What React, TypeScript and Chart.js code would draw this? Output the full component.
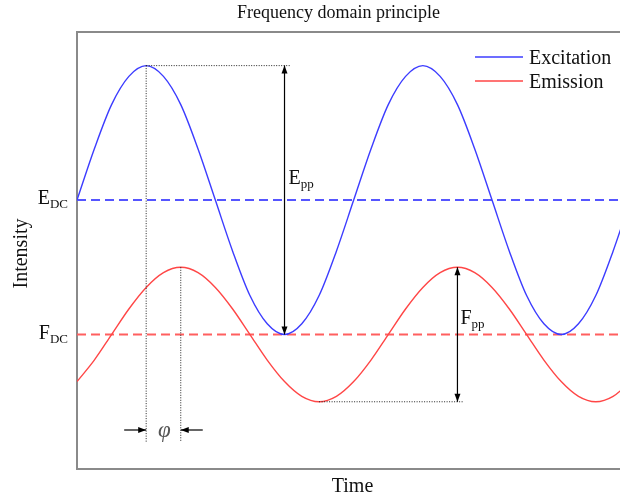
import React, { useEffect, useRef } from "react";
import { Chart, registerables } from "chart.js";

Chart.register(...registerables);

// Sample times, in eighths of a modulation period
const TIME = [
  0, 0.5, 1, 1.5, 2, 2.5, 3, 3.5, 4, 4.5, 5, 5.5, 6, 6.5, 7, 7.5,
  8, 8.5, 9, 9.5, 10, 10.5, 11, 11.5, 12, 12.5, 13, 13.5, 14, 14.5, 15, 15.5, 16,
];
// Excitation intensity (blue)
const EXCITATION = [
  2.0, 2.38, 2.71, 2.92, 3.0, 2.92, 2.71, 2.38, 2.0, 1.62, 1.29, 1.08, 1.0, 1.08, 1.29, 1.62,
  2.0, 2.38, 2.71, 2.92, 3.0, 2.92, 2.71, 2.38, 2.0, 1.62, 1.29, 1.08, 1.0, 1.08, 1.29, 1.62, 2.0,
];
// Emission intensity (red), demodulated and phase-shifted
const EMISSION = [
  0.65, 0.81, 1.0, 1.19, 1.35, 1.46, 1.5, 1.46, 1.35, 1.19, 1.0, 0.81, 0.65, 0.54, 0.5, 0.54,
  0.65, 0.81, 1.0, 1.19, 1.35, 1.46, 1.5, 1.46, 1.35, 1.19, 1.0, 0.81, 0.65, 0.54, 0.5, 0.54, 0.65,
];
// Mean (DC) levels: excitation, emission
const DC_LEVELS = [2.0, 1.0];
const SERIES_NAMES = ["Excitation", "Emission"];
const DC_NAMES = [
  ["E", "DC"],
  ["F", "DC"],
];
const PP_NAMES = [
  ["E", "pp"],
  ["F", "pp"],
];
const X_RANGE = [0, 15.7];
const Y_RANGE = [0, 3.25];

const SERIF = '"Liberation Serif", "Times New Roman", serif';

const BLUE = "rgb(60,60,255)";
const RED = "rgb(255,70,70)";
const BLUE_DASH = "rgb(85,85,255)";
const RED_DASH = "rgb(255,95,95)";

function argMax(arr: number[], from = 0) {
  let best = from;
  for (let i = from; i < arr.length; i++) if (arr[i] > arr[best]) best = i;
  return best;
}
// first local extremum at or after index `from`
function nextMin(arr: number[], from: number) {
  let i = from;
  while (i + 1 < arr.length && arr[i + 1] <= arr[i]) i++;
  return i;
}
function nextMax(arr: number[], from: number) {
  let i = from;
  while (i + 1 < arr.length && arr[i + 1] >= arr[i]) i++;
  return i;
}

function head(ctx: CanvasRenderingContext2D, x1: number, y1: number, x2: number, y2: number) {
  const len = 8;
  const half = 3;
  const a = Math.atan2(y2 - y1, x2 - x1);
  ctx.beginPath();
  ctx.moveTo(x2, y2);
  ctx.lineTo(x2 - len * Math.cos(a) + half * Math.sin(a), y2 - len * Math.sin(a) - half * Math.cos(a));
  ctx.lineTo(x2 - len * Math.cos(a) - half * Math.sin(a), y2 - len * Math.sin(a) + half * Math.cos(a));
  ctx.closePath();
  ctx.fill();
}

function arrow(ctx: CanvasRenderingContext2D, x1: number, y1: number, x2: number, y2: number, both = false) {
  ctx.beginPath();
  ctx.moveTo(x1, y1);
  ctx.lineTo(x2, y2);
  ctx.stroke();
  head(ctx, x1, y1, x2, y2);
  if (both) head(ctx, x2, y2, x1, y1);
}

function dotted(ctx: CanvasRenderingContext2D, x1: number, y1: number, x2: number, y2: number) {
  ctx.save();
  ctx.setLineDash([1, 1.5]);
  ctx.lineWidth = 1;
  ctx.strokeStyle = "#222";
  ctx.beginPath();
  ctx.moveTo(x1, y1);
  ctx.lineTo(x2, y2);
  ctx.stroke();
  ctx.restore();
}

function subText(
  ctx: CanvasRenderingContext2D,
  main: string,
  sub: string,
  x: number,
  y: number,
  align: "left" | "right"
) {
  ctx.textAlign = "left";
  ctx.textBaseline = "alphabetic";
  ctx.font = `20px ${SERIF}`;
  const wm = ctx.measureText(main).width;
  ctx.font = `13px ${SERIF}`;
  const ws = ctx.measureText(sub).width;
  const x0 = align === "right" ? x - wm - ws : x;
  ctx.font = `20px ${SERIF}`;
  ctx.fillText(main, x0, y);
  ctx.font = `13px ${SERIF}`;
  ctx.fillText(sub, x0 + wm, y + 4);
}

const decorPlugin = {
  id: "decor",
  beforeDatasetsDraw(chart: any) {
    const { ctx, chartArea } = chart;
    const { left, top, right, bottom } = chartArea;
    ctx.save();
    ctx.strokeStyle = "#8a8a8a";
    ctx.lineWidth = 2;
    ctx.beginPath();
    ctx.moveTo(right, top);
    ctx.lineTo(left, top);
    ctx.lineTo(left, bottom);
    ctx.lineTo(right, bottom);
    ctx.stroke();
    ctx.restore();
  },
  afterDatasetsDraw(chart: any) {
    const { ctx, chartArea } = chart;
    const { left, top, right, bottom } = chartArea;
    const xs = chart.scales.x;
    const ys = chart.scales.y;
    const px = (v: number) => xs.getPixelForValue(v);
    const py = (v: number) => ys.getPixelForValue(v);

    ctx.save();
    ctx.fillStyle = "#111";

    // title and axis titles
    ctx.font = `18px ${SERIF}`;
    ctx.textAlign = "center";
    ctx.textBaseline = "alphabetic";
    ctx.fillText("Frequency domain principle", (left + right) / 2 - 10, top - 14);
    ctx.font = `20px ${SERIF}`;
    ctx.fillText("Time", (left + right) / 2 + 4, bottom + 23);
    ctx.save();
    ctx.translate(left - 55, (top + bottom) / 2 + 3);
    ctx.rotate(-Math.PI / 2);
    ctx.textBaseline = "middle";
    ctx.fillText("Intensity", 0, 0);
    ctx.restore();

    // DC level labels
    DC_LEVELS.forEach((lvl, i) => {
      subText(ctx, DC_NAMES[i][0], DC_NAMES[i][1], left - 9, py(lvl) + 4, "right");
    });

    // landmarks on the curves
    const ePeak = argMax(EXCITATION);
    const eTrough = nextMin(EXCITATION, ePeak);
    const fPeak = argMax(EMISSION);
    const fTrough = nextMin(EMISSION, fPeak);
    const fPeak2 = nextMax(EMISSION, fTrough);
    const guideBottom = bottom - 27;
    const phiY = bottom - 39;

    // dotted guides
    dotted(ctx, px(TIME[ePeak]), py(EXCITATION[ePeak]), px(TIME[ePeak]), guideBottom);
    dotted(ctx, px(TIME[fPeak]), py(EMISSION[fPeak]), px(TIME[fPeak]), guideBottom);
    dotted(ctx, px(TIME[ePeak]), py(EXCITATION[ePeak]), px(TIME[eTrough]) + 6, py(EXCITATION[ePeak]));
    dotted(ctx, px(TIME[fTrough]), py(EMISSION[fTrough]), px(TIME[fPeak2]) + 6, py(EMISSION[fTrough]));

    // peak-to-peak arrows
    ctx.strokeStyle = "#000";
    ctx.fillStyle = "#000";
    ctx.lineWidth = 1.2;
    const ex = px(TIME[eTrough]);
    arrow(ctx, ex, py(EXCITATION[ePeak]), ex, py(EXCITATION[eTrough]), true);
    const fx = px(TIME[fPeak2]);
    arrow(ctx, fx, py(EMISSION[fTrough]), fx, py(EMISSION[fPeak2]), true);

    ctx.fillStyle = "#111";
    subText(ctx, PP_NAMES[0][0], PP_NAMES[0][1], ex + 4, py(DC_LEVELS[0]) - 16, "left");
    subText(ctx, PP_NAMES[1][0], PP_NAMES[1][1], fx + 3, py(DC_LEVELS[1]) - 11, "left");

    // phase shift marker
    const a = px(TIME[ePeak]);
    const b = px(TIME[fPeak]);
    ctx.fillStyle = "#000";
    arrow(ctx, a - 22, phiY, a, phiY);
    arrow(ctx, b + 22, phiY, b, phiY);
    ctx.fillStyle = "#555";
    ctx.font = `italic 23px ${SERIF}`;
    ctx.textAlign = "center";
    ctx.textBaseline = "alphabetic";
    ctx.fillText("\u03c6", (a + b) / 2 + 1, phiY + 7);

    // legend
    const datasets = chart.data.datasets.slice(0, SERIES_NAMES.length);
    datasets.forEach((ds: any, i: number) => {
      const y = top + 25 + i * 24;
      ctx.strokeStyle = ds.borderColor;
      ctx.lineWidth = ds.borderWidth;
      ctx.beginPath();
      ctx.moveTo(right - 145, y);
      ctx.lineTo(right - 97, y);
      ctx.stroke();
      ctx.fillStyle = "#111";
      ctx.font = `20px ${SERIF}`;
      ctx.textAlign = "left";
      ctx.textBaseline = "alphabetic";
      ctx.fillText(ds.label, right - 91, y + 7);
    });

    ctx.restore();
  },
};

export default function App() {
  const canvasRef = useRef<HTMLCanvasElement | null>(null);

  useEffect(() => {
    const canvas = canvasRef.current;
    if (!canvas) return;
    const pts = (vals: number[]) => TIME.map((t, i) => ({ x: t, y: vals[i] }));
    const flat = (v: number) => [
      { x: X_RANGE[0], y: v },
      { x: X_RANGE[1], y: v },
    ];
    const chart = new Chart(canvas, {
      type: "line",
      data: {
        datasets: [
          {
            label: SERIES_NAMES[0],
            data: pts(EXCITATION),
            borderColor: BLUE,
            borderWidth: 1.4,
            pointRadius: 0,
            cubicInterpolationMode: "monotone",
            fill: false,
          },
          {
            label: SERIES_NAMES[1],
            data: pts(EMISSION),
            borderColor: RED,
            borderWidth: 1.4,
            pointRadius: 0,
            cubicInterpolationMode: "monotone",
            fill: false,
          },
          {
            label: "E_DC",
            data: flat(DC_LEVELS[0]),
            borderColor: BLUE_DASH,
            borderWidth: 2,
            borderDash: [9, 5],
            pointRadius: 0,
            fill: false,
          },
          {
            label: "F_DC",
            data: flat(DC_LEVELS[1]),
            borderColor: RED_DASH,
            borderWidth: 2,
            borderDash: [9, 5],
            pointRadius: 0,
            fill: false,
          },
        ],
      },
      options: {
        responsive: false,
        animation: false,
        events: [],
        layout: { padding: { left: 77, top: 32, bottom: 32, right: 0 } },
        scales: {
          x: { type: "linear", min: X_RANGE[0], max: X_RANGE[1], display: false },
          y: { type: "linear", min: Y_RANGE[0], max: Y_RANGE[1], display: false },
        },
        plugins: {
          legend: { display: false },
          title: { display: false },
          tooltip: { enabled: false },
        },
      },
      plugins: [decorPlugin],
    } as any);
    return () => chart.destroy();
  }, []);

  return (
    <canvas
      ref={canvasRef}
      width={620}
      height={501}
      style={{ display: "block", position: "absolute", left: 0, top: 0, width: 620, height: 501 }}
    />
  );
}
